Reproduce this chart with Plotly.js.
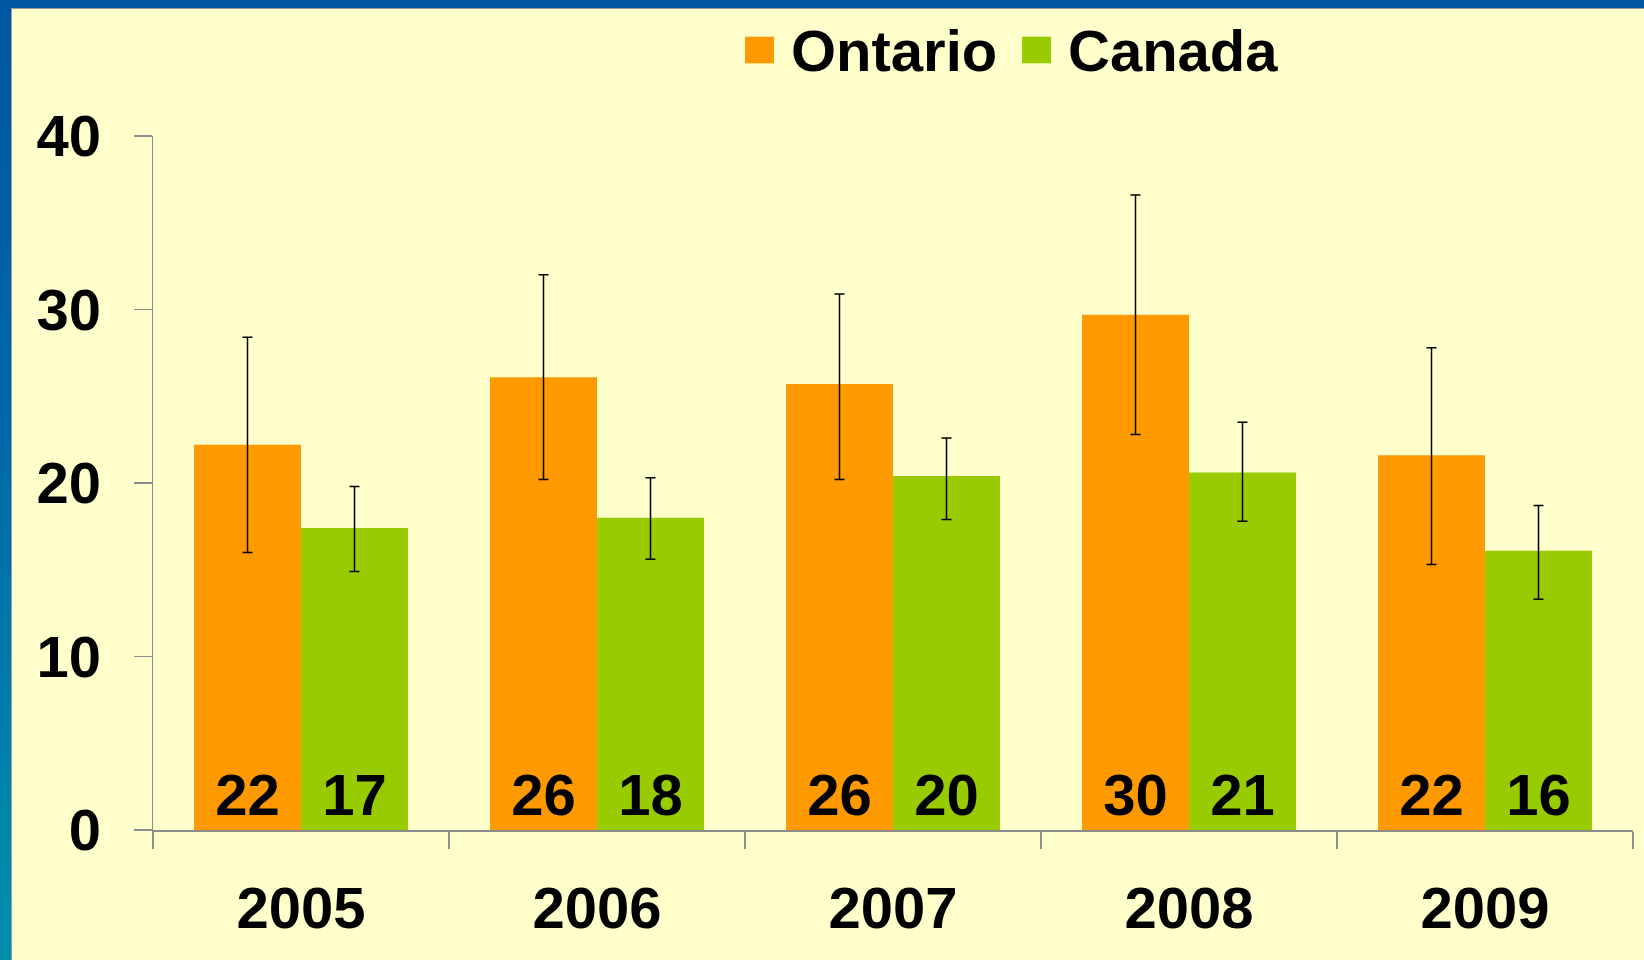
<!DOCTYPE html>
<html>
<head>
<meta charset="utf-8">
<script src="https://cdn.plot.ly/plotly-3.0.1.min.js"></script>
<style>
  html, body { margin: 0; padding: 0; width: 1644px; height: 960px; overflow: hidden; }
  body { background: linear-gradient(to bottom, #0056a0 0%, #0068a8 45%, #0090ac 100%); position: relative; }
  #wrap { position: absolute; left: 11px; top: 8px; width: 1633px; height: 952px; background: #9a9a9a; }
  #chart { position: absolute; left: 1px; top: 1px; width: 1632px; height: 951px; }
</style>
</head>
<body>
<div id="wrap"><div id="chart"></div></div>
<script>
const years = ["2005", "2006", "2007", "2008", "2009"];
const ontarioValues = [22.2, 26.1, 25.7, 29.7, 21.6];
const ontarioUpper  = [28.4, 32.0, 30.9, 36.6, 27.8];
const ontarioLower  = [16.0, 20.2, 20.2, 22.8, 15.3];
const ontarioLabels = ["22", "26", "26", "30", "22"];
const canadaValues = [17.4, 18.0, 20.4, 20.6, 16.1];
const canadaUpper  = [19.8, 20.3, 22.6, 23.5, 18.7];
const canadaLower  = [14.9, 15.6, 17.9, 17.8, 13.3];
const canadaLabels = ["17", "18", "20", "21", "16"];
const seriesNames = ["Ontario", "Canada"];
const yTicks = [0, 10, 20, 30, 40];

const FONT = "Liberation Sans, Arial, sans-serif";
const BIG = 58;
const ORANGE = "#FF9900";
const GREEN = "#99CC00";

function barTrace(name, vals, up, lo, labels, color) {
  return {
    type: "bar", name: name, x: years, y: vals,
    marker: { color: color },
    text: labels, textposition: "inside", insidetextanchor: "start",
    textangle: 0, constraintext: "none",
    textfont: { family: FONT, size: BIG, color: "#000", weight: "bold" },
    error_y: {
      type: "data", symmetric: false,
      array: vals.map((v, i) => up[i] - v),
      arrayminus: vals.map((v, i) => v - lo[i]),
      color: "#000", thickness: 1.5, width: 5
    },
    showlegend: false, hoverinfo: "none"
  };
}

const data = [
  barTrace(seriesNames[0], ontarioValues, ontarioUpper, ontarioLower, ontarioLabels, ORANGE),
  barTrace(seriesNames[1], canadaValues, canadaUpper, canadaLower, canadaLabels, GREEN)
];

// Legend (drawn as swatches + text, in paper coordinates of the plot area)
const legendItems = [
  { name: seriesNames[0], color: ORANGE, sx0: 0.4000, sx1: 0.4196, tx: 0.4297 },
  { name: seriesNames[1], color: GREEN,  sx0: 0.5872, sx1: 0.6068, tx: 0.6169 }
];
const shapes = legendItems.map(it => ({
  type: "rect", xref: "paper", yref: "paper",
  x0: it.sx0, x1: it.sx1, y0: 1.1047, y1: 1.1431,
  fillcolor: it.color, line: { width: 0 }
}));
const annotations = legendItems.map(it => ({
  xref: "paper", yref: "paper", x: it.tx, y: 1.1225,
  xanchor: "left", yanchor: "middle", showarrow: false,
  text: it.name, font: { family: FONT, size: BIG, color: "#000", weight: "bold" }
}));

const layout = {
  width: 1632, height: 951,
  margin: { l: 141, r: 11, t: 127, b: 130, autoexpand: false },
  paper_bgcolor: "#FFFFCC", plot_bgcolor: "#FFFFCC",
  barmode: "group", bargap: 0.277, bargroupgap: 0,
  font: { family: FONT, size: BIG, color: "#000", weight: "bold" },
  showlegend: false,
  shapes: shapes,
  annotations: annotations,
  xaxis: {
    type: "category", showgrid: false, zeroline: false,
    showline: true, linecolor: "#8c8c8c", linewidth: 1.5,
    ticks: "outside", tickson: "boundaries", ticklen: 17, tickcolor: "#8c8c8c", tickwidth: 1.5,
    tickfont: { family: FONT, size: BIG, weight: "bold" },
    ticklabelstandoff: 27
  },
  yaxis: {
    range: [0, 40], tickvals: yTicks, ticktext: yTicks.map(String),
    showgrid: false, zeroline: false,
    showline: true, linecolor: "#8c8c8c", linewidth: 1.5,
    ticks: "outside", ticklen: 18, tickcolor: "#8c8c8c", tickwidth: 1.5,
    tickfont: { family: FONT, size: BIG, weight: "bold" },
    ticklabelstandoff: 21
  }
};

Plotly.newPlot("chart", data, layout, { staticPlot: true, displayModeBar: false });
</script>
</body>
</html>
